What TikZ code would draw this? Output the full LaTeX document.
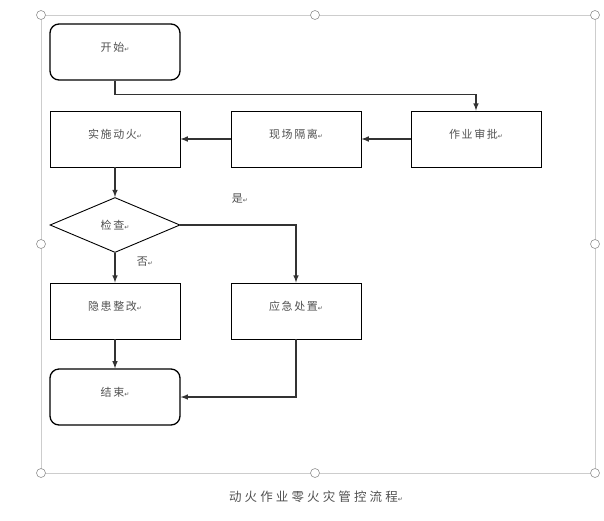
\documentclass[tikz,border=0pt]{standalone}
\usepackage{fontspec}
\newfontfamily\cjk{Noto Sans CJK SC}
\newfontfamily\symf{DejaVu Sans}
\usepackage{xcolor}
\usepackage{tikz}
\usetikzlibrary{arrows}
\usetikzlibrary{shapes.geometric}

\definecolor{txtgray}{RGB}{80,80,80}
\definecolor{framegray}{RGB}{205,205,205}
\definecolor{handlegray}{RGB}{145,145,145}
\newcommand{\pmk}{{\symf\fontsize{6pt}{6pt}\selectfont\textcolor{txtgray}{↵}}}
\newcommand{\cnfont}{\cjk\fontsize{11pt}{11pt}\selectfont\addfontfeatures{LetterSpace=15}}

\tikzset{
  box/.style={rectangle, draw=black, line width=0.9pt, minimum width=130pt,
    minimum height=56pt, inner sep=0pt, text height=8pt, text depth=9pt,
    font=\cnfont, text=txtgray},
  term/.style={box, rounded corners=9pt, line width=1.3pt},
  chkbox/.style={diamond, draw=black, line width=0.9pt, minimum width=130pt,
    minimum height=55pt, inner sep=0pt, aspect=2.4, font=\cnfont, text=txtgray},
  flow/.style={-latex, draw=black!80, line width=1.5pt},
  lbl/.style={inner sep=0pt, font=\cnfont, text=txtgray},
  handle/.style={draw=handlegray, fill=white, line width=0.6pt}
}

\begin{document}
\begin{tikzpicture}[x=1pt, y=-1pt]
\useasboundingbox (0,0) rectangle (604,520);

% selection frame
\draw [draw=framegray, line width=0.8pt] (41,15) rectangle (595,473);
\foreach \hx/\hy in {41/15, 315/15, 595/15, 41/244, 595/244, 41/473, 315/473, 595/473}
  \draw [handle] (\hx,\hy) circle (4.5pt);

\node [term] (start) at (115,52) {开始\pmk};
\node [box] (fire) at (115,139) {实施动火\pmk};
\node [box] (iso) at (296,139) {现场隔离\pmk};
\node [box] (appr) at (476,139) {作业审批\pmk};
\node [chkbox] (chk) at (115,225) {检查\pmk};
\node [box] (fix) at (115,311) {隐患整改\pmk};
\node [box] (emer) at (296,311) {应急处置\pmk};
\node [term] (stop) at (115,397) {结束\pmk};
\node [lbl] (yes) at (240,199) {是\pmk};
\node [lbl] (no) at (145,262) {否\pmk};

\draw [flow] (start.south) -- ++(0,14) -| (appr.north);
\draw [flow] (appr.west) -- (iso.east);
\draw [flow] (iso.west) -- (fire.east);
\draw [flow] (fire.south) -- (chk.north);
\draw [flow] (chk.east) -| (emer.north);
\draw [flow] (chk.south) -- (fix.north);
\draw [flow] (fix.south) -- (stop.north);
\draw [flow] (emer.south) |- (stop.east);

\node [lbl, font=\cjk\fontsize{12.5pt}{12.5pt}\selectfont\addfontfeatures{LetterSpace=25}] (title) at (316,497) {动火作业零火灾管控流程\pmk};
\end{tikzpicture}
\end{document}
